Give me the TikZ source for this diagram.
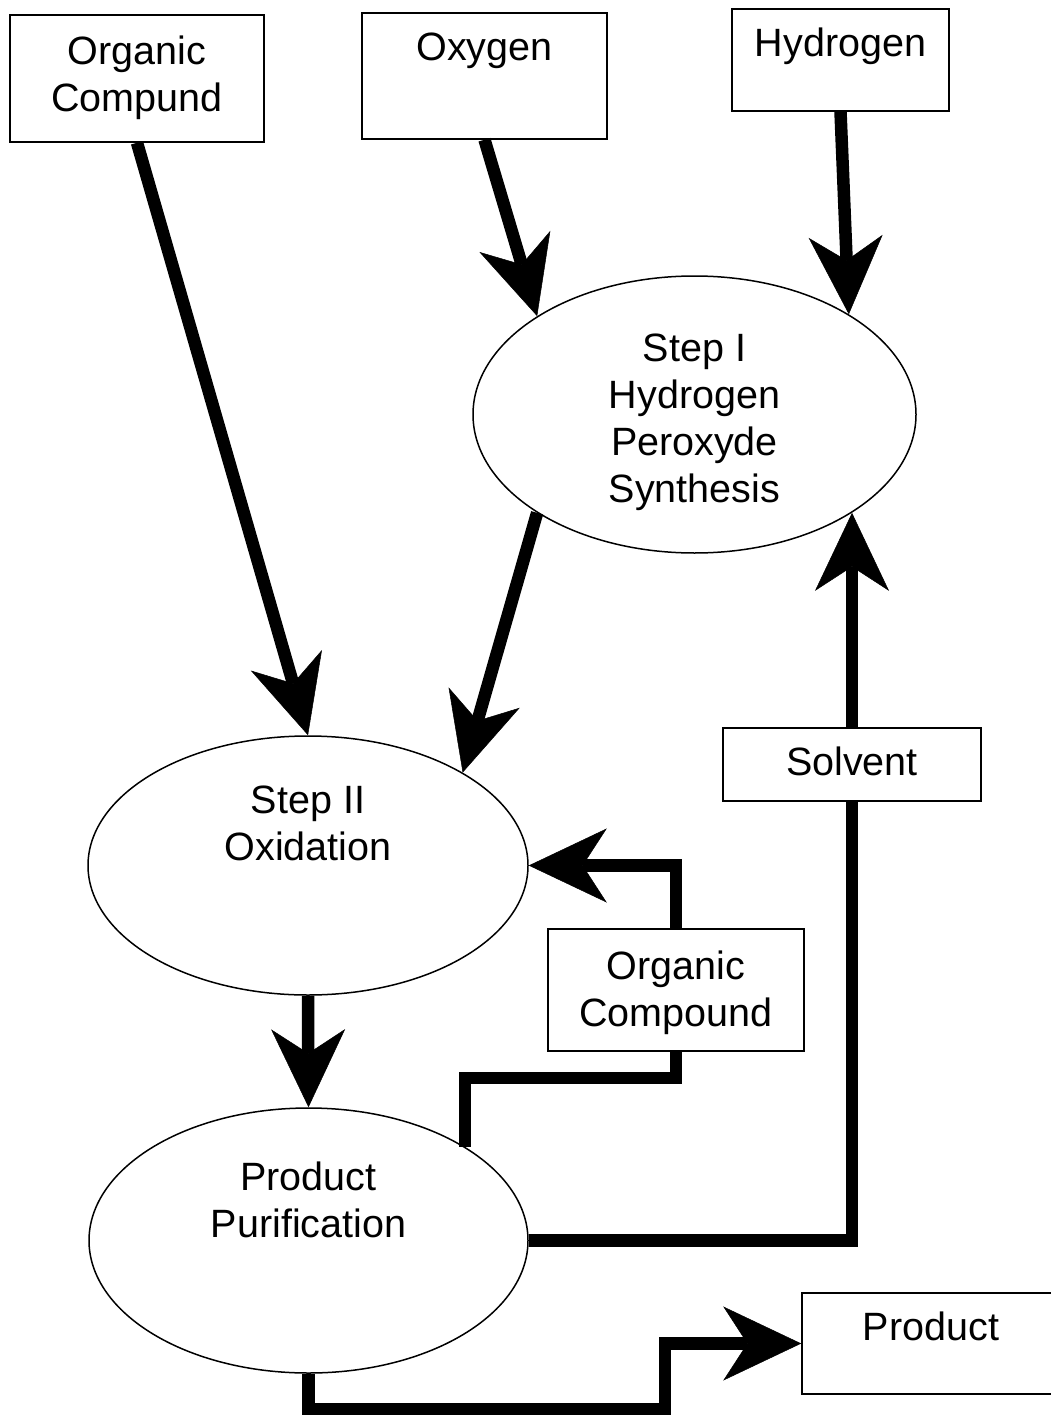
\documentclass[tikz,border=0pt]{standalone}
\usepackage{fontspec}
\setmainfont{Liberation Sans}
\usetikzlibrary{shapes.geometric,arrows.meta}
\newcommand{\lift}[2]{\raisebox{#1}[0pt][0pt]{\begin{tabular}{@{}c@{}}#2\end{tabular}}}
\begin{document}
\begin{tikzpicture}[x=1pt,y=-1pt,
  font=\fontsize{39.5}{47}\selectfont,
  box/.style={draw, line width=1.5pt, inner sep=0pt},
  ell/.style={ellipse, draw, line width=1.5pt, inner sep=0pt},
  flow/.style={line width=12.5pt},
  arr/.style={flow, -{Stealth[length=78pt, width=74pt, inset=24pt, line width'=0.5pt]}}]
\useasboundingbox (0,0) rectangle (1050,1415);
% boxes
\node[box, minimum width=254pt, minimum height=127pt] (oc1) at (137,78.5) {\lift{-6.1pt}{Organic\\Compund}};
\node[box, minimum width=245pt, minimum height=126pt] (oxy) at (484.5,76) {\lift{18.4pt}{Oxygen}};
\node[box, minimum width=217pt, minimum height=102pt] (hyd) at (840.5,60) {\lift{6.4pt}{Hydrogen}};
\node[box, minimum width=258pt, minimum height=73pt] (solvent) at (852,764.5) {\lift{-8.1pt}{Solvent}};
\node[box, minimum width=256pt, minimum height=122pt] (oc2) at (676,990) {\lift{-9.6pt}{Organic\\Compound}};
\node[box, minimum width=258pt, minimum height=101pt] (product) at (931,1343.5) {\lift{5.9pt}{Product}};
% ellipses
\node[ell, minimum width=443pt, minimum height=277pt] (step1) at (694.5,414.5) {\lift{-14.1pt}{Step I\\Hydrogen\\Peroxyde\\Synthesis}};
\node[ell, minimum width=440pt, minimum height=259pt] (step2) at (308,865.5) {\lift{31.4pt}{Step II\\Oxidation}};
\node[ell, minimum width=439pt, minimum height=265pt] (purif) at (308.5,1240.5) {\lift{29.9pt}{Product\\Purification}};
% helper corners
\coordinate (j1) at (676,1078);
\coordinate (j2) at (665,1409);
% connectors
\draw[arr] (oc1.south) -- (step2.north);
\draw[arr] (oxy.south) -- (step1.148);
\draw[arr] (hyd.south) -- (step1.33);
\draw[arr] (step1.212) -- (step2.31);
\draw[arr] (step2.south) -- (purif.north);
\draw[flow] (purif.31) |- (j1) -- (oc2.south);
\draw[arr] (oc2.north) |- (step2.east);
\draw[flow] (purif.east) -| (solvent.south);
\draw[arr] (solvent.north) -- (solvent.north |- step1.-32);
\draw[arr] (purif.south) |- (j2) |- (product.west);
\end{tikzpicture}
\end{document}
